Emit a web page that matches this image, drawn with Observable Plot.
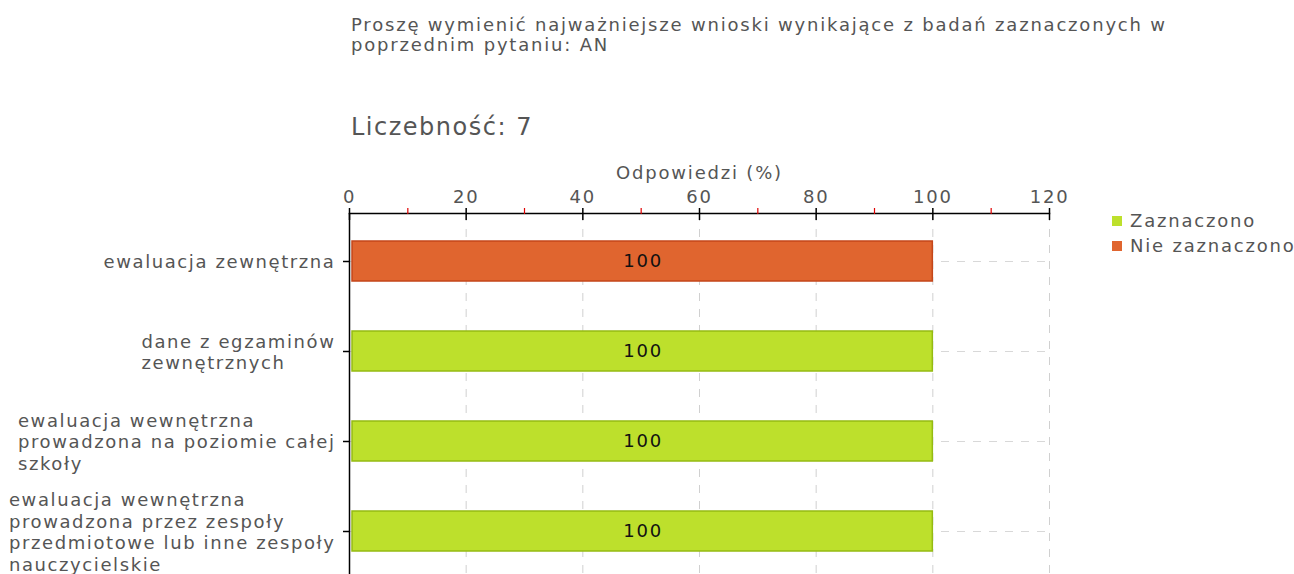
<!DOCTYPE html>
<html>
<head>
<meta charset="utf-8">
<script src="https://cdn.jsdelivr.net/npm/d3@7"></script>
<script src="https://cdn.jsdelivr.net/npm/@observablehq/plot@0.6"></script>
<style>
  html, body { margin: 0; padding: 0; width: 1294px; height: 574px; overflow: hidden; background: #fff; }
  #wrap { position: relative; width: 1294px; height: 574px; }
  #chart { position: absolute; left: 0; top: 0; }
  .ttl { position: absolute; left: 351px; top: 15px; font-family: "DejaVu Sans", sans-serif; font-size: 18px; line-height: 20px; color: #555; letter-spacing: 1.8px; white-space: pre; }
  .cnt { position: absolute; left: 351px; top: 113px; font-family: "DejaVu Sans", sans-serif; font-size: 24px; line-height: 28px; color: #555; letter-spacing: 1.5px; }
  .legend { position: absolute; left: 1112px; top: 208px; font-family: "DejaVu Sans", sans-serif; font-size: 18px; color: #555; letter-spacing: 1.8px; line-height: 25px; white-space: nowrap; }
  .legend .sw { display: inline-block; width: 10px; height: 10px; margin-right: 8px; vertical-align: 1px; }
</style>
</head>
<body>
<div id="wrap">
  <div id="chart"></div>
  <div class="ttl" id="title"></div>
  <div class="cnt" id="count"></div>
  <div class="legend" id="legend"></div>
</div>
<script>
const titleText = "Proszę wymienić najważniejsze wnioski wynikające z badań zaznaczonych w\npoprzednim pytaniu: AN";
const countText = "Liczebność: 7";
const axisLabel = "Odpowiedzi (%)";

const categories = [
  "ewaluacja zewnętrzna",
  "dane z egzaminów zewnętrznych",
  "ewaluacja wewnętrzna prowadzona na poziomie całej szkoły",
  "ewaluacja wewnętrzna prowadzona przez zespoły przedmiotowe lub inne zespoły nauczycielskie"
];
const categoryLabels = [
  "ewaluacja zewnętrzna",
  "dane z egzaminów\nzewnętrznych",
  "ewaluacja wewnętrzna\nprowadzona na poziomie całej\nszkoły",
  "ewaluacja wewnętrzna\nprowadzona przez zespoły\nprzedmiotowe lub inne zespoły\nnauczycielskie"
];
const values = [100, 100, 100, 100];
const statuses = ["Nie zaznaczono", "Zaznaczono", "Zaznaczono", "Zaznaczono"];

const seriesNames = ["Zaznaczono", "Nie zaznaczono"];
const seriesColors = ["#bde02c", "#e0652f"];
const seriesStrokes = ["#95bb12", "#c4461a"];

const xMajorTicks = [0, 20, 40, 60, 80, 100, 120];
const xMinorTicks = [10, 30, 50, 70, 90, 110];

const data = categories.map((c, i) => ({category: c, value: values[i], status: statuses[i]}));

document.getElementById("title").textContent = titleText;
document.getElementById("count").textContent = countText;
const leg = document.getElementById("legend");
seriesNames.forEach((s, i) => {
  const row = document.createElement("div");
  const sw = document.createElement("span");
  sw.className = "sw";
  sw.style.background = seriesColors[i];
  row.appendChild(sw);
  row.appendChild(document.createTextNode(s));
  leg.appendChild(row);
});

const textColor = "#555";

const plot = Plot.plot({
  width: 1294,
  height: 574,
  marginTop: 213,
  marginLeft: 349,
  marginRight: 245,
  marginBottom: 0,
  style: {fontFamily: "DejaVu Sans, sans-serif", fontSize: "18px", color: textColor, background: "transparent", overflow: "visible"},
  x: {domain: [0, 120]},
  y: {domain: categories, range: [213, 579], paddingInner: 0.556, paddingOuter: 0.311},
  color: {domain: seriesNames, range: seriesColors},
  marks: [
    Plot.gridX(xMajorTicks, {stroke: "#d0d0d0", strokeOpacity: 1, strokeDasharray: "8,8"}),
    Plot.gridY(categories, {stroke: "#d8d8d8", strokeOpacity: 1, strokeDasharray: "8,8"}),
    Plot.barX(data, {
      y: "category", x: "value", fill: "status",
      stroke: d => seriesStrokes[seriesNames.indexOf(d.status)],
      strokeWidth: 1.5, insetLeft: 3
    }),
    Plot.text(data, {y: "category", x: d => d.value / 2, text: d => String(d.value), fill: "#111", fontSize: 18, dx: 2}),
    Plot.frame({anchor: "top", stroke: "#000", strokeWidth: 1.5}),
    Plot.ruleX([0], {stroke: "#000", strokeWidth: 1.5}),
    Plot.axisX({anchor: "top", ticks: xMinorTicks, tickSize: 6, tickFormat: () => "", label: null, stroke: "#e00000", strokeWidth: 1.2}),
    Plot.axisX({anchor: "top", ticks: xMajorTicks, tickSize: 12, dy: 6, tickFormat: () => "", label: null, stroke: "#000", strokeWidth: 1.5}),
    Plot.axisX({anchor: "top", ticks: xMajorTicks, tickSize: 0, tickPadding: 11, fill: textColor, fontSize: 18,
      label: axisLabel, labelAnchor: "center", labelArrow: "none", labelOffset: 47}),
    Plot.axisY({ticks: categories, tickFormat: c => categoryLabels[categories.indexOf(c)], tickSize: 6, tickPadding: 8,
      stroke: "#000", strokeWidth: 1.5, fill: textColor, fontSize: 18, lineHeight: 1.2, label: null})
  ]
});
document.getElementById("chart").appendChild(plot);

// letter spacing first, then measure
plot.querySelectorAll("g[aria-label='x-axis tick label'], g[aria-label='x-axis label'], g[aria-label='text']").forEach(g => {
  g.style.letterSpacing = "1.8px";
});
plot.querySelectorAll("g[aria-label='y-axis tick label']").forEach(g => {
  g.style.letterSpacing = "1.6px";
});
// Left-align multi-line labels within their block, keeping the block right-aligned
plot.querySelectorAll("g[aria-label='y-axis tick label'] text").forEach(t => {
  const bb = t.getBBox();
  t.setAttribute("text-anchor", "start");
  const tr = t.getAttribute("transform") || "";
  t.setAttribute("transform", tr + ` translate(${-bb.width},0)`);
});
</script>
</body>
</html>
